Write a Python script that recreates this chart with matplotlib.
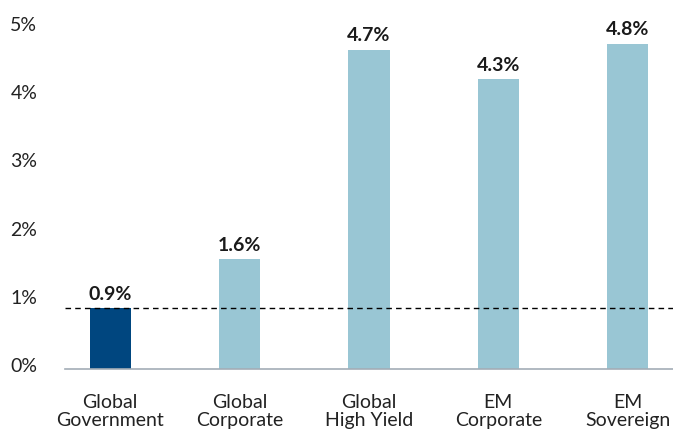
import matplotlib
matplotlib.use("Agg")
import matplotlib.pyplot as plt
import matplotlib.transforms as mtransforms

categories = ["Global\nGovernment", "Global\nCorporate", "Global\nHigh Yield",
              "EM\nCorporate", "EM\nSovereign"]
values = [0.89, 1.61, 4.68, 4.25, 4.77]
value_labels = ["0.9%", "1.6%", "4.7%", "4.3%", "4.8%"]
ref_level = 0.89
y_ticks = [0, 1, 2, 3, 4, 5]
y_tick_labels = ["0%", "1%", "2%", "3%", "4%", "5%"]

dark_blue = "#00467f"
light_blue = "#99c6d4"

plt.rcParams["font.family"] = ["Lato", "DejaVu Sans"]

fig = plt.figure(figsize=(6.73, 4.29), dpi=100)
ax = fig.add_axes([65 / 673, 1 - 369 / 429, 608 / 673, (369 - 28) / 429])

colors = [dark_blue] + [light_blue] * (len(values) - 1)
x = range(len(categories))
bars = ax.bar(x, values, width=0.317, color=colors, zorder=2)

for b, lab in zip(bars, value_labels):
    ax.annotate(lab, (b.get_x() + b.get_width() / 2, b.get_height()),
                xytext=(0, 4), textcoords="offset points",
                ha="center", va="bottom", fontsize=14, fontweight="bold",
                color="#1a1a1a")

ax.axhline(ref_level, color="black", linestyle=(0, (4, 3)), linewidth=1.0, zorder=3)

ax.set_xlim(-0.35, 4.35)
ax.set_ylim(0, 5)
ax.set_yticks(y_ticks)
ax.set_yticklabels(y_tick_labels)
ax.set_xticks(list(x))
ax.set_xticklabels(categories, linespacing=1.1)
ax.tick_params(axis="y", length=0, pad=20, labelsize=14, labelcolor="#222222")
ax.tick_params(axis="x", length=0, pad=18, labelsize=14, labelcolor="#222222")
shift = mtransforms.ScaledTranslation(0, 4 / 100, fig.dpi_scale_trans)
for lab in ax.get_yticklabels():
    lab.set_transform(lab.get_transform() + shift)

for s in ["top", "right", "left"]:
    ax.spines[s].set_visible(False)
ax.spines["bottom"].set_color("#a3adb6")
ax.spines["bottom"].set_linewidth(1.2)

fig.savefig("out.png", dpi=100)
